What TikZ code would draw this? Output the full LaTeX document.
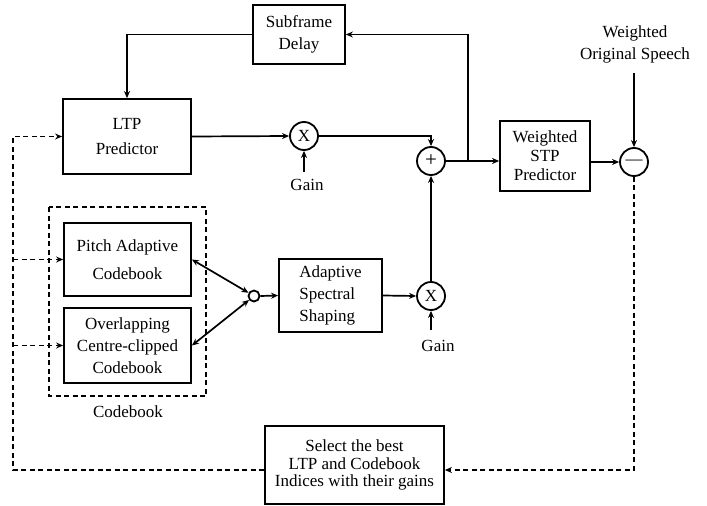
\documentclass[tikz,border=0pt]{standalone}
\usepackage{fontspec}
\setmainfont{Liberation Serif}
\usetikzlibrary{calc,arrows.meta}
\tikzset{
  blk/.style={draw, line width=1.8pt, align=center, inner sep=0pt},
  junc/.style={draw, circle, line width=1.8pt, minimum size=28pt, inner sep=0pt},
  sig/.style={line width=1.7pt, -{Stealth[length=7pt,width=6pt]}},
  ctl/.style={line width=1.5pt, dash pattern=on 5pt off 3.5pt, -{Stealth[length=7pt,width=6pt]}},
}

\begin{document}
\begin{tikzpicture}[x=1pt,y=-1pt,font=\fontsize{17}{22}\selectfont]
    \useasboundingbox (0,0) rectangle (707,506);
    % blocks
    \node[blk, minimum width=92pt, minimum height=59pt] (delay) at (299,34.5) {Subframe\\Delay};
    \node[blk, minimum width=128pt, minimum height=75pt] (ltp) at (127,136.5) {LTP\\[3pt]Predictor};
    \node[blk, minimum width=90pt, minimum height=70pt, font=\fontsize{17}{19}\selectfont] (stp) at (545,156) {Weighted\\STP\\Predictor};
    \node[blk, minimum width=127pt, minimum height=73pt] (pac) at (127.5,259.5) {Pitch Adaptive\\[6pt]Codebook};
    \node[blk, minimum width=127pt, minimum height=75pt] (occ) at (127.5,345.5) {Overlapping\\Centre-clipped\\Codebook};
    \node[blk, minimum width=103pt, minimum height=73pt, align=left] (ass) at (330.5,295.5) {Adaptive\\Spectral\\Shaping};
    \node[blk, minimum width=179pt, minimum height=78pt, font=\fontsize{17}{17.5}\selectfont] (sel) at (354.5,465) {Select the best\\LTP and Codebook\\Indices with their gains};
    % summing and product points
    \node[junc] (mulA) at (304,136) {X};
    \node[junc] (mulB) at (431,296) {X};
    \node[junc, font=\fontsize{21}{21}\selectfont] (sum) at (431,161) {+};
    \node[junc] (diff) at (634,162) {---};
    \node[draw, circle, line width=1.8pt, minimum size=11pt, inner sep=0pt] (sw) at (254,296) {};
    % codebook group
    \draw[line width=1.5pt, dash pattern=on 5pt off 3.5pt] (49,207) rectangle (206,396);
    \node (cbk) at (128,412) {Codebook};
    % labels
    \node (gainA) at (307,185) {Gain};
    \node (gainB) at (438,346) {Gain};
    \node[align=center] (speech) at (635,44.5) {Weighted\\Original Speech};
    \coordinate (gA) at (304,172);
    \coordinate (gB) at (431,330);
    \coordinate (sp) at (634,73);
    \coordinate (br) at (468,161);
    \coordinate (fb) at (634,470);
    \coordinate (lft) at (13,0);
    % signal path
    \draw[sig] (ltp.east) -- (mulA.west);
    \draw[sig] (gA) -- (mulA.south);
    \draw[sig] (mulA.east) -| (sum.north);
    \draw[sig] (sum.east) -- (sum.east -| stp.west);
    \draw[sig] (br) |- (delay.east);
    \draw[sig] (delay.west) -| (ltp.north);
    \draw[sig] (diff.west -| stp.east) -- (diff.west);
    \draw[sig] (sp) -- (diff.north);
    \foreach \b in {pac,occ} {
       \draw[line width=1.7pt, {Stealth[length=7pt,width=6pt]}-{Stealth[length=7pt,width=6pt]}] (\b.east) -- (sw);
     }
    \draw[sig] (sw.east) -- (ass.west);
    \draw[sig] (ass.east) -- (mulB.west);
    \draw[sig] (gB) -- (mulB.south);
    \draw[sig] (mulB.north) -- (sum.south);
    % error feedback
    \draw[ctl] (diff.south) -- (fb) -- (fb -| sel.east);
    \draw[ctl] (fb -| sel.west) -| (lft |- ltp.west) -- (ltp.west);
    \foreach \b in {pac,occ} {
       \draw[ctl] (lft |- \b.west) -- (\b.west);
     }
\end{tikzpicture}
\end{document}
